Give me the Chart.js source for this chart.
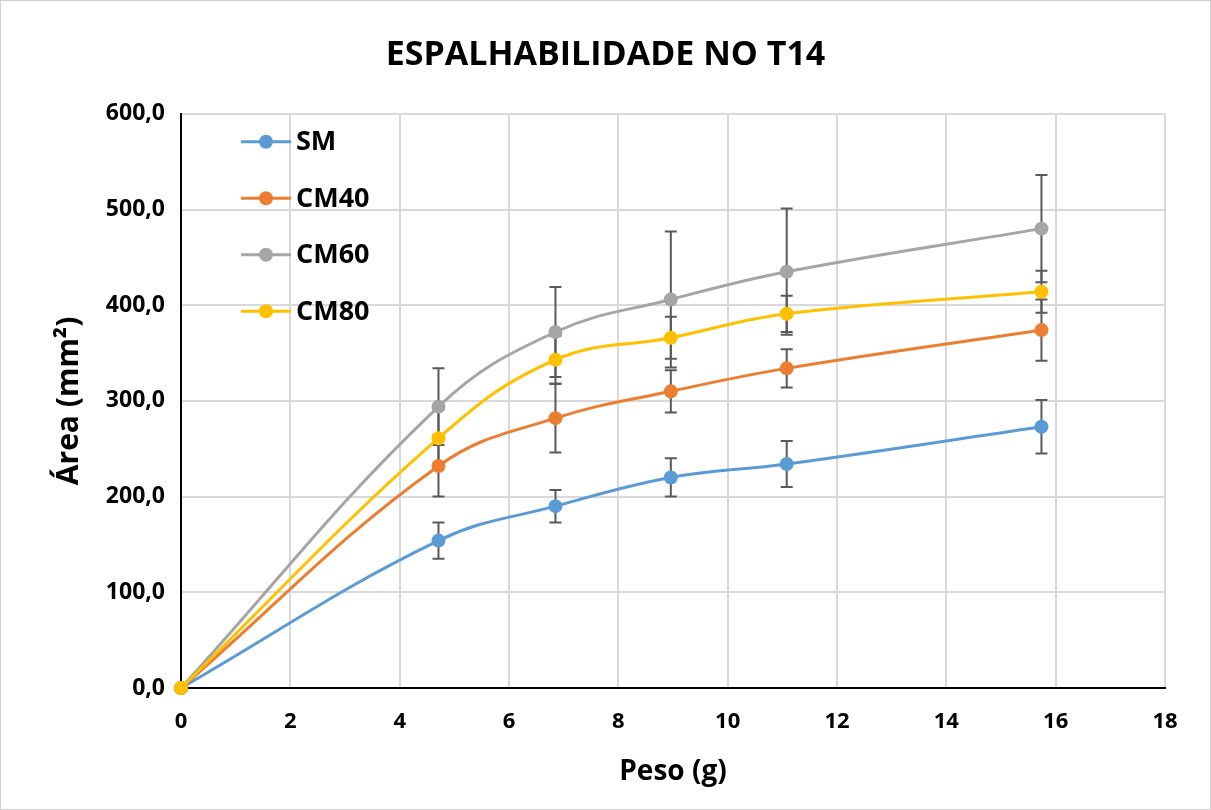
<!DOCTYPE html>
<html>
<head>
<meta charset="utf-8">
<script src="https://cdn.jsdelivr.net/npm/chart.js@4.4.1/dist/chart.umd.min.js"></script>
<style>
    html, body { margin: 0; padding: 0; background: #fff; }
    #wrap { width: 1211px; height: 810px; box-sizing: border-box; border: 1px solid #d0d0d0; position: relative; }
</style>
</head>
<body>
<div id="wrap"><canvas id="chart"></canvas></div>
<script>
const pesos = [0, 4.71, 6.85, 8.96, 11.08, 15.74];
const seriesNames = ['SM', 'CM40', 'CM60', 'CM80'];
const smValues = [0, 154, 190, 220, 234, 273];
const cm40Values = [0, 232, 282, 310, 334, 374];
const cm60Values = [0, 294, 372, 406, 435, 480];
const cm80Values = [0, 261, 343, 366, 391, 414];
const smErrors = [0, 19, 17, 20, 24, 28];
const cm40Errors = [0, 32, 36, 22, 20, 32];
const cm60Errors = [0, 40, 47, 71, 66, 56];
const cm80Errors = [0, 30, 25, 22, 19, 22];
const colors = ['#5B9BD5', '#ED7D31', '#A5A5A5', '#FFC000'];

const FONT = '"Open Sans", Lato, sans-serif';

function makeDataset(i, values, errors) {
    return {
        label: seriesNames[i],
        data: values.map((v, k) => ({ x: pesos[k], y: v })),
        errors: errors,
        borderColor: colors[i],
        backgroundColor: colors[i],
        borderWidth: 3,
        pointRadius: 7,
        pointHoverRadius: 7,
        pointBorderWidth: 0,
        tension: 0.4,
        clip: false,
        order: 3 - i,  // ultima serie por cima, como no Excel
        fill: false
    };
}

// barras de erro desenhadas com as escalas do grafico
const errorBars = {
    id: 'errorBars',
    beforeDatasetsDraw(chart) {
        const { ctx, scales: { x, y } } = chart;
        ctx.save();
        ctx.strokeStyle = '#595959';
        ctx.lineWidth = 2;
        chart.data.datasets.forEach(ds => {
            ds.data.forEach((p, k) => {
                const e = ds.errors[k];
                if (!e) return;
                const px = x.getPixelForValue(p.x);
                const top = y.getPixelForValue(p.y + e);
                const bot = y.getPixelForValue(p.y - e);
                ctx.beginPath();
                ctx.moveTo(px, top); ctx.lineTo(px, bot);
                ctx.moveTo(px - 6, top); ctx.lineTo(px + 6, top);
                ctx.moveTo(px - 6, bot); ctx.lineTo(px + 6, bot);
                ctx.stroke();
            });
        });
        ctx.restore();
    }
};

// legenda dentro da area do grafico
const innerLegend = {
    id: 'innerLegend',
    afterDraw(chart) {
        const { ctx, chartArea } = chart;
        const x0 = chartArea.left + 60;
        const y0 = chartArea.top + 28;
        ctx.save();
        chart.data.datasets.forEach((ds, i) => {
            const yy = y0 + i * 56.5;
            ctx.strokeStyle = ds.borderColor;
            ctx.lineWidth = 3;
            ctx.beginPath();
            ctx.moveTo(x0, yy); ctx.lineTo(x0 + 50, yy);
            ctx.stroke();
            ctx.fillStyle = ds.borderColor;
            ctx.beginPath();
            ctx.arc(x0 + 25, yy, 7, 0, Math.PI * 2);
            ctx.fill();
            ctx.fillStyle = '#000';
            ctx.font = 'bold 27px ' + FONT;
            ctx.textBaseline = 'middle';
            ctx.textAlign = 'left';
            ctx.fillText(ds.label, x0 + 55, yy + 1);
        });
        ctx.restore();
    }
};

new Chart(document.getElementById('chart'), {
    type: 'line',
    data: {
        datasets: [
            makeDataset(0, smValues, smErrors),
            makeDataset(1, cm40Values, cm40Errors),
            makeDataset(2, cm60Values, cm60Errors),
            makeDataset(3, cm80Values, cm80Errors)
        ]
    },
    options: {
        responsive: true,
        maintainAspectRatio: false,
        animation: false,
        layout: { padding: 0 },
        plugins: {
            legend: { display: false },
            tooltip: { enabled: false },
            title: {
                display: true,
                text: 'ESPALHABILIDADE NO T14',
                color: '#000',
                font: { family: FONT, size: 34, weight: 'bold' },
                padding: { top: 34, bottom: 38 }
            }
        },
        scales: {
            x: {
                type: 'linear',
                min: 0,
                max: 18,
                afterFit: s => { s.height = 121; },
                ticks: {
                    stepSize: 2,
                    color: '#000',
                    font: { family: FONT, size: 22, weight: 'bold' },
                    padding: 21
                },
                grid: { color: '#d9d9d9', lineWidth: 2, drawTicks: false },
                border: { color: '#000', width: 2 },
                title: {
                    display: true,
                    text: 'Peso (g)',
                    color: '#000',
                    font: { family: FONT, size: 28, weight: 'bold' },
                    padding: { top: 0, bottom: 20 }
                }
            },
            y: {
                min: 0,
                max: 600,
                afterFit: s => { s.width = 180; },
                ticks: {
                    stepSize: 100,
                    color: '#000',
                    font: { family: FONT, size: 23, weight: 'bold' },
                    padding: 16,
                    callback: v => v.toFixed(1).replace('.', ',')
                },
                grid: { color: '#d9d9d9', lineWidth: 2, drawTicks: false },
                border: { color: '#000', width: 2 },
                title: {
                    display: true,
                    text: 'Área (mm²)',
                    color: '#000',
                    font: { family: FONT, size: 30, weight: 'bold' },
                    padding: { top: 50, bottom: 0 }
                }
            },
            // eixo vazio so para reservar a margem direita
            margem: {
                position: 'right',
                display: true,
                afterFit: s => { s.width = 45; },
                grid: { display: false },
                ticks: { display: false },
                border: { display: false }
            }
        }
    },
    plugins: [errorBars, innerLegend]
});
</script>
</body>
</html>
